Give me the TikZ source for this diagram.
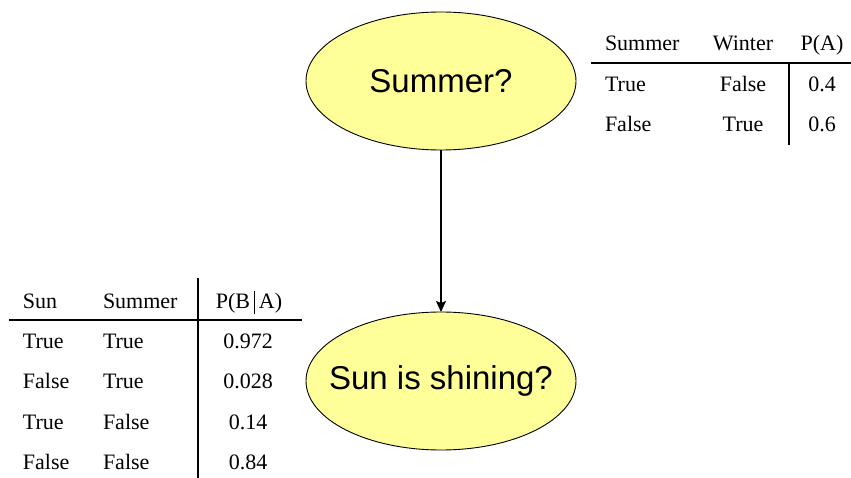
\documentclass[tikz,border=0pt]{standalone}
\usepackage{fontspec}
\setmainfont{Liberation Serif}
\newfontfamily\nodefont{Liberation Sans}
\usetikzlibrary{shapes.geometric}
\usetikzlibrary{arrows.meta}
\definecolor{nodefill}{RGB}{255,255,153}
\newcommand{\condbar}{\,\rule[-0.25em]{1.4pt}{1.05em}\,}

\begin{document}
\begin{tikzpicture}[x=1pt,y=-1pt,inner sep=0pt,outer sep=0pt,
bnnode/.style={draw,ellipse,fill=nodefill,line width=0.9pt,minimum width=270pt,minimum height=138pt},
bnlabel/.style={font=\nodefont\fontsize{33}{38}\selectfont},
cell/.style={font=\fontsize{22}{26}\selectfont,text height=14pt,text depth=1pt},
rule/.style={line width=1.5pt}]
\useasboundingbox (0,0) rectangle (851,478);
\draw (441,81) node[bnnode,label={[bnlabel]center:Summer?}] (summer) {};
\draw (441,381) node[bnnode,label={[bnlabel]center:Sun is shining?}] (sun) {};
\draw[line width=1.2pt,-{Stealth[length=11pt,width=10pt,inset=2pt]}] (summer.south) -- (sun.north);
% prior table
\draw (605,44) node[cell,anchor=west] (pa11) {Summer};
\draw (743,44) node[cell] (pa12) {Winter};
\draw (822,44) node[cell] (pa13) {P(A)};
\draw (605,85) node[cell,anchor=west] (pa21) {True};
\draw (743,85) node[cell] (pa22) {False};
\draw (822,85) node[cell] (pa23) {0.4};
\draw (605,125) node[cell,anchor=west] (pa31) {False};
\draw (743,125) node[cell] (pa32) {True};
\draw (822,125) node[cell] (pa33) {0.6};
\draw[rule] (591,63) -- (851,63);
\draw[rule] (789,63) -- (789,145);
% conditional table
\draw (23,302) node[cell,anchor=west] (pb11) {Sun};
\draw (103,302) node[cell,anchor=west] (pb12) {Summer};
\draw (249,302) node[cell] (pb13) {P(B\condbar A)};
\draw (23,342) node[cell,anchor=west] (pb21) {True};
\draw (103,342) node[cell,anchor=west] (pb22) {True};
\draw (248,342) node[cell] (pb23) {0.972};
\draw (23,382) node[cell,anchor=west] (pb31) {False};
\draw (103,382) node[cell,anchor=west] (pb32) {True};
\draw (248,382) node[cell] (pb33) {0.028};
\draw (23,423) node[cell,anchor=west] (pb41) {True};
\draw (103,423) node[cell,anchor=west] (pb42) {False};
\draw (248,423) node[cell] (pb43) {0.14};
\draw (23,463) node[cell,anchor=west] (pb51) {False};
\draw (103,463) node[cell,anchor=west] (pb52) {False};
\draw (248,463) node[cell] (pb53) {0.84};
\draw[rule] (9,320) -- (302,320);
\draw[rule] (198,278) -- (198,478);
\end{tikzpicture}
\end{document}
